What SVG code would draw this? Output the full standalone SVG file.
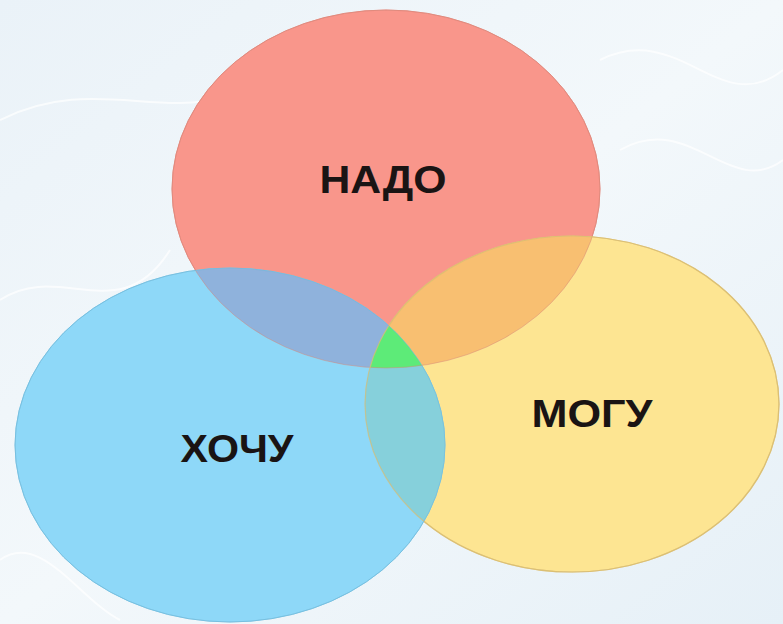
<svg xmlns="http://www.w3.org/2000/svg" width="783" height="624" viewBox="0 0 783 624">
  <style>
    .lbl { font-family: "Liberation Sans", Arial, sans-serif; font-weight: bold; font-size: 38px; fill: #1a1414; text-anchor: middle; }
    .wave { fill: none; stroke: #ffffff; stroke-width: 2; opacity: 0.7; }
  </style>
  <defs>
    <linearGradient id="bg" x1="0" y1="0" x2="1" y2="1">
      <stop offset="0" stop-color="#eaf2f8"/>
      <stop offset="0.5" stop-color="#f3f8fb"/>
      <stop offset="1" stop-color="#e6f0f7"/>
    </linearGradient>
    <ellipse id="eRed" cx="386" cy="189" rx="214" ry="179"/>
    <ellipse id="eBlue" cx="230" cy="445" rx="215" ry="177"/>
    <ellipse id="eYellow" cx="572" cy="404" rx="207" ry="168"/>
    <clipPath id="cRed"><use href="#eRed"/></clipPath>
    <clipPath id="cYellow"><use href="#eYellow"/></clipPath>
    <clipPath id="cRedYellow" clip-path="url(#cRed)"><use href="#eYellow"/></clipPath>
  </defs>

  <rect width="783" height="624" fill="url(#bg)"/>
  <g id="background-waves">
    <path class="wave" d="M0 120 C120 60 200 160 320 40"/>
    <path class="wave" d="M0 300 C60 260 120 330 170 250"/>
    <path class="wave" d="M600 60 C680 20 720 120 783 70"/>
    <path class="wave" d="M620 150 C690 110 730 200 783 160"/>
    <path class="wave" d="M0 560 C40 530 80 600 120 620"/>
  </g>

  <g id="node-nado">
    <use href="#eRed" fill="#f9968b" stroke="#e98a80" stroke-width="1"/>
  </g>
  <g id="node-mogu">
    <use href="#eYellow" fill="#fde592" stroke="#e2c77a" stroke-width="1.2"/>
  </g>
  <g id="node-hochu">
    <use href="#eBlue" fill="#8ed8f8" stroke="#7fc8e8" stroke-width="1"/>
  </g>

  <g id="overlaps">
    <use href="#eBlue" fill="#8fb2dc" clip-path="url(#cRed)"/>
    <use href="#eYellow" fill="#f8bf71" clip-path="url(#cRed)"/>
    <use href="#eBlue" fill="#86d0db" clip-path="url(#cYellow)"/>
    <use href="#eBlue" fill="#5deb78" clip-path="url(#cRedYellow)"/>
    <use href="#eRed" fill="none" stroke="#d88a7a" stroke-opacity="0.5" stroke-width="1"/>
    <use href="#eYellow" fill="none" stroke="#d9bc72" stroke-opacity="0.7" stroke-width="1.2"/>
    <use href="#eBlue" fill="none" stroke="#6fb8d8" stroke-opacity="0.5" stroke-width="1"/>
  </g>

  <g id="labels">
    <text class="lbl" x="383" y="193" textLength="127" lengthAdjust="spacingAndGlyphs">НАДО</text>
    <text class="lbl" x="237" y="462" textLength="113" lengthAdjust="spacingAndGlyphs">ХОЧУ</text>
    <text class="lbl" x="592" y="427" textLength="121" lengthAdjust="spacingAndGlyphs">МОГУ</text>
  </g>
  <g id="connectors"/>
</svg>
